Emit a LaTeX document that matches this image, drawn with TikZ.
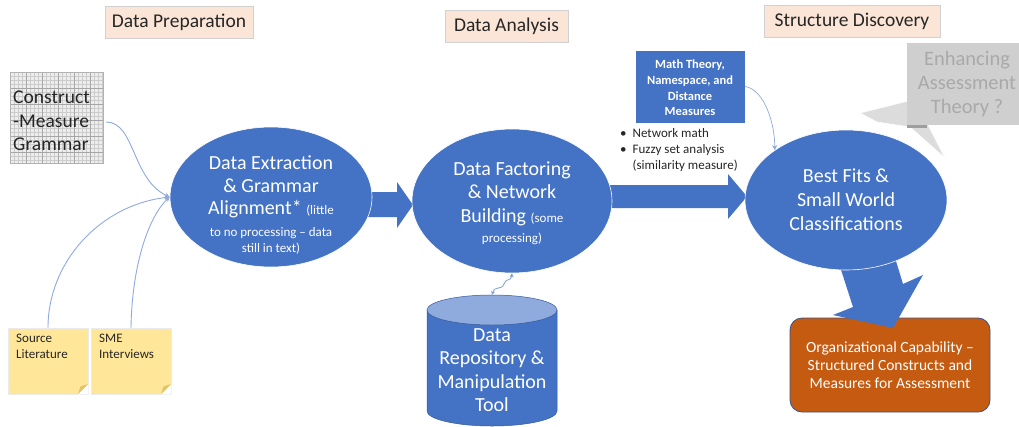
\documentclass[tikz,border=0pt]{standalone}
\usepackage{fontspec}
\setmainfont{Carlito}
\usetikzlibrary{shapes.geometric,arrows.meta}
\definecolor{ublue}{HTML}{4472C4}
\definecolor{lblue}{HTML}{8FAADC}
\definecolor{cylend}{HTML}{8FAADC}
\definecolor{peach}{HTML}{FBE5D6}
\definecolor{sticky}{HTML}{FFE699}
\definecolor{foldc}{HTML}{E2C466}
\definecolor{orng}{HTML}{C55A11}
\definecolor{txtdark}{HTML}{262626}
\definecolor{enhbox}{HTML}{D0CFCF}
\definecolor{enhptr}{HTML}{DCDCDC}
\definecolor{enhtxt}{HTML}{A9A9A9}
\begin{document}
\begin{tikzpicture}[x=1pt,y=-1pt,
  titlebox/.style={draw=black!18, fill=peach, inner sep=0pt, minimum height=32pt,
    font=\fontsize{19.5}{23}\selectfont, text=txtdark},
  blob/.style={ellipse, fill=ublue, draw=white, line width=0.6pt, inner sep=0pt},
  wtxt/.style={text=white, align=center},
  conn/.style={draw=lblue, line width=0.9pt, -{Stealth[length=5pt,width=5pt]}},
  bigarrow/.style={fill=ublue, draw=none},
  notebox/.style={rectangle, fill=sticky, draw=black!8, line width=0.4pt,
    minimum width=80pt, minimum height=66pt, inner sep=0pt},
  notetxt/.style={anchor=north west, align=left, font=\fontsize{13}{16}\selectfont,
    text=txtdark, inner sep=0pt},
  small/.style={font=\fontsize{13}{15}\selectfont},
]
\useasboundingbox (0,0) rectangle (1019,426);
\fill[white] (0,0) rectangle (1019,426);

% ---- titles
\node[titlebox, minimum width=148pt] (t1) at (179,22) {Data Preparation};
\node[titlebox, minimum width=123pt] (t2) at (506.5,26) {Data Analysis};
\node[titlebox, minimum width=176pt] (t3) at (852,21.5) {Structure Discovery};

% ---- construct-measure grammar (graph paper)
\fill[black!7] (10,72) rectangle (103,163);
\foreach \i in {0,...,23} {\draw[black!20, line width=0.25pt] ({10+\i*4},72) -- ({10+\i*4},163);}
\foreach \j in {0,...,22} {\draw[black!20, line width=0.25pt] (10,{72+\j*4}) -- (103,{72+\j*4});}
\foreach \i in {0,...,5} {\draw[black!35, line width=0.4pt] ({10+\i*16},72) -- ({10+\i*16},163);}
\foreach \j in {0,...,5} {\draw[black!35, line width=0.4pt] (10,{72+\j*16}) -- (103,{72+\j*16});}
\node[draw=black!30, minimum width=93pt, minimum height=91pt, inner sep=0pt] (cmg) at (56.5,117.5) {};
\node[text=txtdark, align=left, anchor=west, inner sep=0pt,
  font=\fontsize{19.5}{23.5}\selectfont] (cmgt) at (13,121) {Construct\\-Measure\\Grammar};

% ---- sticky notes
\node[notebox] (sl) at (48,361) {};
\fill[white] (88.3,384) -- (88.3,394.3) -- (78,394.3) -- cycle;
\fill[foldc] (88,384) -- (78,394) -- (80.5,386.5) -- cycle;
\node[notetxt] (slt) at (16,334) {Source\\Literature};
\node[notebox] (sme) at (131,361) {};
\fill[white] (171.3,384) -- (171.3,394.3) -- (161,394.3) -- cycle;
\fill[foldc] (171,384) -- (161,394) -- (163.5,386.5) -- cycle;
\node[notetxt] (smet) at (99,334) {SME\\Interviews};

% ---- big arrows
\path[bigarrow] (360,192) -- (397,192) -- (397,182) -- (413,205) -- (397,228) -- (397,217) -- (360,217) -- cycle;
\path[bigarrow] (600,185) -- (728,185) -- (728,174) -- (747,196.5) -- (728,219) -- (728,208) -- (600,208) -- cycle;

% ---- ellipses
\node[blob, minimum width=202pt, minimum height=140pt] (e1) at (271,197) {};
\node[blob, minimum width=200pt, minimum height=144pt] (e2) at (512,201) {};

% ---- orange result box and pointer from ellipse 3
\node[rectangle, rounded corners=12pt, fill=orng, draw=ublue!75!black, line width=0.8pt,
  minimum width=200pt, minimum height=94pt] (res) at (890,365) {};
\node[wtxt, font=\fontsize{15.5}{18}\selectfont] (rest) at (890,365)
  {Organizational Capability –\\Structured Constructs and\\Measures for Assessment};
\path[bigarrow] (834,248) -- (853,307) -- (833,315) -- (893,328) -- (923,275) -- (903,284) -- (892,248) -- cycle;
\node[blob, minimum width=202pt, minimum height=140pt] (e3) at (846,200) {};

% ---- ellipse texts
\node[wtxt, font=\fontsize{20}{22.5}\selectfont] (e1t) at (271,205)
  {Data Extraction\\\& Grammar\\Alignment* {\fontsize{13}{15}\selectfont(little}\\[-1pt]
   {\fontsize{13}{15}\selectfont to no processing – data}\\[-6.5pt]
   {\fontsize{13}{15}\selectfont still in text)}};
\node[wtxt, font=\fontsize{20}{23.5}\selectfont] (e2t) at (512,203)
  {Data Factoring\\\& Network\\Building {\fontsize{13}{15}\selectfont(some}\\[-3pt]
   {\fontsize{13}{15}\selectfont processing)}};
\node[wtxt, font=\fontsize{20}{24}\selectfont] (e3t) at (846,200)
  {Best Fits \&\\Small World\\Classifications};

% ---- repository cylinder
\fill[ublue] (427,310) -- (427,411) arc[start angle=180, end angle=0, x radius=65, y radius=15]
  -- (557,310) -- cycle;
\draw[ublue!80!black, line width=0.5pt] (427,310) -- (427,411) arc[start angle=180, end angle=0, x radius=65, y radius=15]
  -- (557,310);
\filldraw[fill=cylend, draw=ublue!80!black, line width=0.5pt] (492,310) ellipse[x radius=65, y radius=15];
\coordinate (cyltop) at (492,295);
\node[wtxt, font=\fontsize{20}{23.3}\selectfont] (cylt) at (492,370)
  {Data\\Repository \&\\Manipulation\\Tool};
\draw[draw=lblue!80!ublue, line width=0.8pt, {Stealth[length=4pt,width=4pt]}-{Stealth[length=4pt,width=4pt]}]
  (cyltop) .. controls (495,285) and (501,291) .. (504,284)
  .. controls (507,277) and (511,282) .. (e2.south);

% ---- math box and bullets
\node[rectangle, fill=ublue, draw=white, line width=0.5pt, minimum width=110pt, minimum height=73pt,
  inner sep=0pt] (math) at (690,86.5) {};
\node[wtxt, font=\fontsize{12.5}{15.7}\selectfont\bfseries] (matht) at (690,88)
  {Math Theory,\\Namespace, and\\Distance\\Measures};
\node[anchor=north west, inner sep=0pt, text=txtdark, font=\fontsize{13}{16}\selectfont] (bul) at (620,126)
  {\begin{tabular}{@{}l@{\hspace{6pt}}l@{}}\textbullet & Network math\\ \textbullet & Fuzzy set analysis\\ & (similarity measure)\end{tabular}};
\draw[conn, line width=0.7pt] (math.east) .. controls (765,90) and (775,125) .. (e3.145);

% ---- enhancing assessment theory callout
\filldraw[fill=enhptr, draw=white, line width=0.6pt] (908,101) -- (860,113) -- (877,122) -- (910,127) -- (945,158) -- (928,125) -- cycle;
\fill[black!38] (907,123) rectangle (927,127.5);
\node[rectangle, fill=enhbox, minimum width=112pt, minimum height=82pt, inner sep=0pt] (enh) at (963,84) {};
\node[align=center, text=enhtxt, font=\fontsize{20.5}{24}\selectfont] (enht) at (967,84)
  {Enhancing\\Assessment\\Theory ?};

% ---- connectors into data extraction
\draw[conn] ([xshift=3pt,yshift=-4.5pt]cmg.east) .. controls (135,122) and (132,180) .. (e1.west);
\draw[conn] (sl.north) .. controls (48,262) and (100,205) .. (e1.west);
\draw[conn] (sme.north) .. controls (132,262) and (150,215) .. (e1.west);
\end{tikzpicture}
\end{document}
